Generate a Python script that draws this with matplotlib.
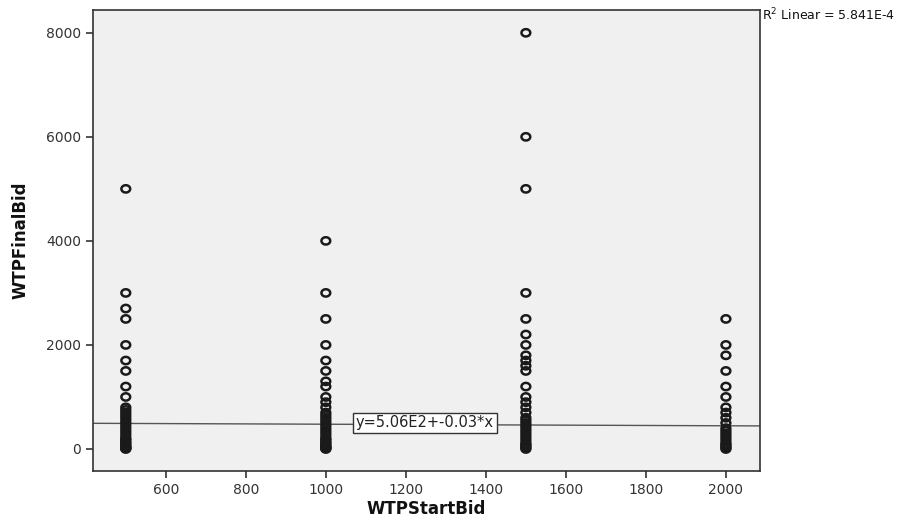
import numpy as np
import matplotlib
matplotlib.use("Agg")
import matplotlib.pyplot as plt
from matplotlib.path import Path

plt.rcParams['font.family'] = ['DejaVu Sans']

bids_500 = [0, 10, 20, 30, 50, 70, 100, 120, 150, 180, 200, 250, 300, 350,
            400, 450, 500, 550, 600, 650, 700, 750, 800, 1000, 1200, 1500,
            1700, 2000, 2500, 2700, 3000, 5000]
bids_1000 = [0, 10, 20, 30, 50, 70, 100, 120, 150, 180, 200, 250, 300, 350,
             400, 450, 500, 550, 600, 650, 700, 800, 900, 1000, 1200, 1300,
             1500, 1700, 2000, 2500, 3000, 4000]
bids_1500 = [0, 20, 50, 80, 100, 150, 200, 250, 300, 350, 400, 450, 500, 550,
             600, 700, 800, 900, 1000, 1200, 1500, 1600, 1700, 1800, 2000,
             2200, 2500, 3000, 5000, 6000, 8000]
bids_2000 = [0, 20, 50, 80, 100, 150, 200, 250, 300, 350, 400, 500, 600, 700,
             800, 1000, 1200, 1500, 1800, 2000, 2500]
start_bids = [500, 1000, 1500, 2000]

# fitted linear model
intercept = 506
slope = -0.03
fit_label = "y=5.06E2+-0.03*x"
r2_label = "R$^2$ Linear = 5.841E-4"

x_ticks = [600, 800, 1000, 1200, 1400, 1600, 1800, 2000]
y_ticks = [0, 2000, 4000, 6000, 8000]

# slightly flattened open circle, like the SPSS marker
t = np.linspace(0, 2 * np.pi, 41)
ellipse = Path(np.column_stack([1.2 * np.cos(t), np.sin(t)]), closed=True)

fig = plt.figure(figsize=(9.09, 5.21), dpi=100)
ax = fig.add_axes([0.1023, 0.096, 0.7337, 0.885])
ax.set_facecolor('#f0f0f0')

for sb, vals in zip(start_bids, [bids_500, bids_1000, bids_1500, bids_2000]):
    ax.scatter(np.full(len(vals), sb), vals, s=40, marker=ellipse,
               facecolors='none', edgecolors='#1a1a1a', linewidths=1.8,
               zorder=3)

xlim = (418, 2085)
ylim = (-423, 8440)
xs = np.array(xlim)
ax.plot(xs, intercept + slope * xs, color='#555555', lw=1.0, zorder=2)
ax.text(1247, 500, fit_label, ha='center', va='center', fontsize=10.5,
        color='#222222', zorder=4,
        bbox=dict(boxstyle='square,pad=0.2', fc='white', ec='#333333', lw=1.0))

ax.set_xlim(xlim)
ax.set_ylim(ylim)
ax.set_xticks(x_ticks)
ax.set_yticks(y_ticks)
ax.tick_params(direction='out', length=5, width=1.2, colors='#333333',
               labelsize=10, labelcolor='#333333')
for sp in ax.spines.values():
    sp.set_color('#333333')
    sp.set_linewidth(1.2)

ax.set_xlabel('WTPStartBid', fontsize=12, fontweight='bold', color='#111111',
              labelpad=2)
ax.set_ylabel('WTPFinalBid', fontsize=12, fontweight='bold', color='#111111',
              labelpad=12)

fig.text(0.838, 0.972, r2_label, ha='left', va='center', fontsize=9,
         color='#111111')

fig.savefig('out.png', dpi=100)
